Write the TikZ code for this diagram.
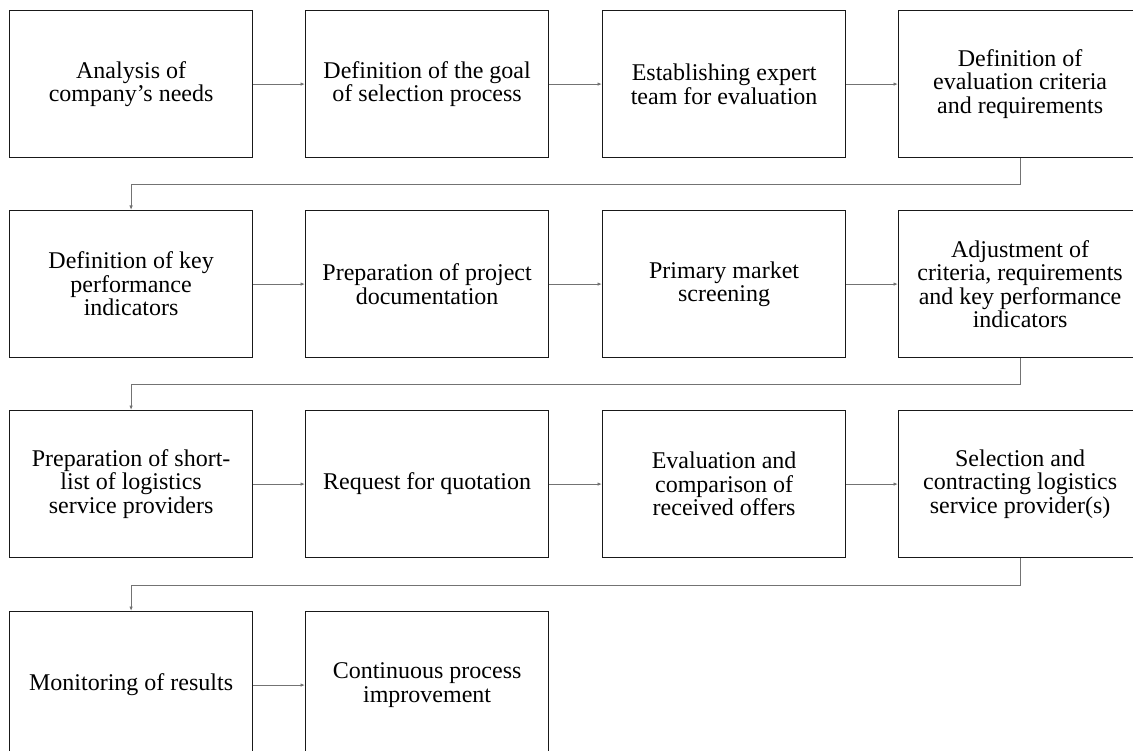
\documentclass[tikz,border=0pt]{standalone}
\usepackage{fontspec}
\setmainfont{Liberation Serif}
\usetikzlibrary{arrows.meta,calc}
\begin{document}
\begin{tikzpicture}[x=1pt,y=-1pt,
  stepbox/.style={draw=black!90, line width=1.2pt, rectangle, anchor=north west,
    minimum width=243pt, minimum height=147pt, align=center, inner sep=2pt,
    font=\fontsize{24}{23.5}\selectfont},
  conn/.style={draw=black!55, line width=1pt,
    -{Latex[length=4.5pt,width=3.5pt]}}]
\useasboundingbox (0,0) rectangle (1133,751);
% row 1
\node[stepbox] (b1)  at (9,10)    {Analysis of\\company’s needs};
\node[stepbox] (b2)  at (305,10)  {Definition of the goal\\of selection process};
\node[stepbox] (b3)  at (602,10)  {Establishing expert\\team for evaluation};
\node[stepbox] (b4)  at (898,10)  {Definition of\\evaluation criteria\\and requirements};
% row 2
\node[stepbox] (b5)  at (9,210)   {Definition of key\\performance\\indicators};
\node[stepbox] (b6)  at (305,210) {Preparation of project\\documentation};
\node[stepbox] (b7)  at (602,210) {Primary market\\screening};
\node[stepbox] (b8)  at (898,210) {Adjustment of\\criteria, requirements\\and key performance\\indicators};
% row 3
\node[stepbox] (b9)  at (9,410)   {Preparation of short-\\list of logistics\\service providers};
\node[stepbox] (b10) at (305,410) {Request for quotation};
\node[stepbox] (b11) at (602,410) {Evaluation and\\comparison of\\received offers};
\node[stepbox] (b12) at (898,410) {Selection and\\contracting logistics\\service provider(s)};
% row 4
\node[stepbox] (b13) at (9,611)   {Monitoring of results};
\node[stepbox] (b14) at (305,611) {Continuous process\\improvement};
% horizontal links
\foreach \a/\b in {b1/b2,b2/b3,b3/b4,b5/b6,b6/b7,b7/b8,b9/b10,b10/b11,b11/b12,b13/b14}
  \draw[conn] (\a.east) -- (\b.west);
% row-to-row links
\draw[conn] (b4.south) -- ++(0,26.5) -| (b5.north);
\draw[conn] (b8.south) -- ++(0,26.5) -| (b9.north);
\draw[conn] (b12.south) -- ++(0,27) -| (b13.north);
\end{tikzpicture}
\end{document}
